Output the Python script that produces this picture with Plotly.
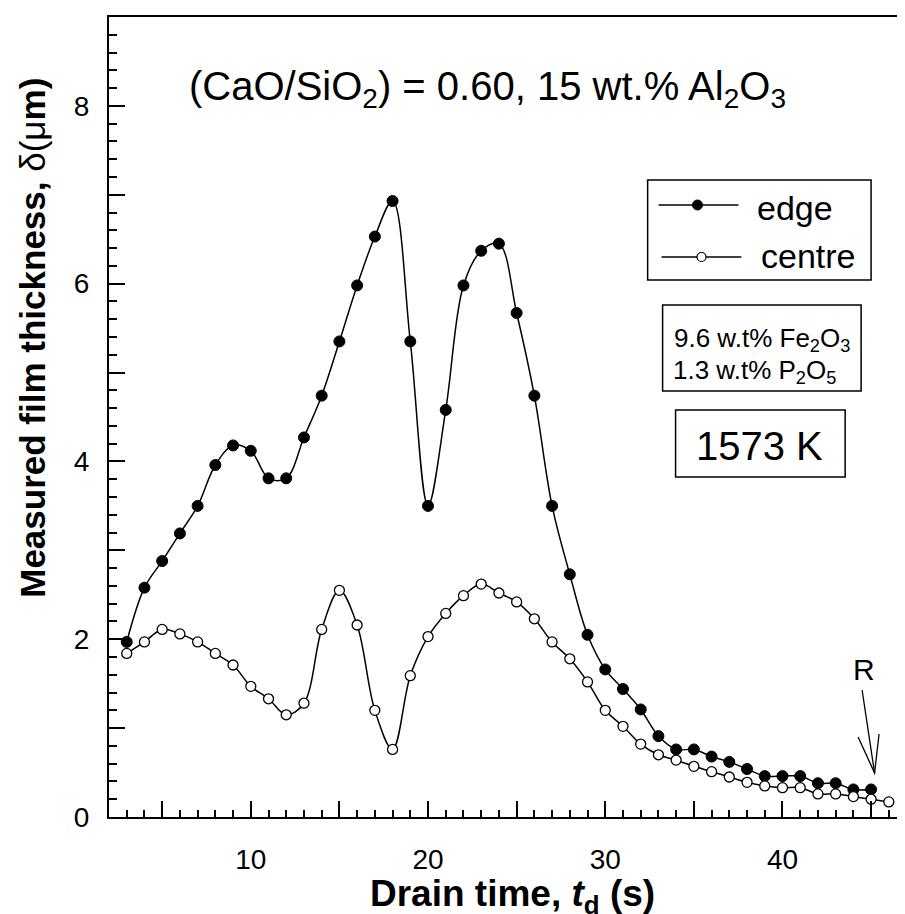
import plotly.graph_objects as go

# ---------------- data ----------------
edge_t = list(range(3, 46))
edge_delta = [1.97, 2.58, 2.88, 3.19, 3.50, 3.96, 4.18, 4.12, 3.81, 3.81,
              4.27, 4.74, 5.35, 5.98, 6.53, 6.93, 5.35, 3.50, 4.58, 5.98,
              6.37, 6.45, 5.67, 4.74, 3.50, 2.73, 2.05, 1.66, 1.44, 1.21,
              0.91, 0.76, 0.76, 0.68, 0.62, 0.54, 0.46, 0.46, 0.46, 0.38,
              0.38, 0.31, 0.31]
centre_t = list(range(3, 47))
centre_delta = [1.84, 1.97, 2.11, 2.06, 1.97, 1.84, 1.71, 1.47, 1.33, 1.15,
                1.28, 2.11, 2.55, 2.16, 1.20, 0.76, 1.59, 2.03, 2.29, 2.49,
                2.62, 2.52, 2.42, 2.23, 1.97, 1.78, 1.52, 1.20, 1.02, 0.82,
                0.70, 0.64, 0.57, 0.51, 0.45, 0.39, 0.35, 0.33, 0.33, 0.26,
                0.26, 0.23, 0.20, 0.17]
x_tick_vals = [5, 10, 15, 20, 25, 30, 35, 40, 45]
x_tick_text = ["", "10", "", "20", "", "30", "", "40", ""]
y_tick_vals = [0, 1, 2, 3, 4, 5, 6, 7, 8, 9]
y_tick_text = ["0", "", "2", "", "4", "", "6", "", "8", ""]

# ---------------- geometry helpers (page pixel -> paper) ----------------
OFF = 8                      # default body margin of the html page
W, H = 905 - OFF, 914 - OFF
L, R, T, B = 109 - OFF, 0, 17 - OFF, 97
PW, PH = W - L - R, H - T - B


def px(x):
    return (x - OFF - L) / PW


def py(y):
    return (H - B - (y - OFF)) / PH


FONT = "Liberation Sans, Arial, Helvetica, sans-serif"

fig = go.Figure()
fig.add_trace(go.Scatter(
    x=edge_t, y=edge_delta, mode="lines+markers", name="edge",
    line=dict(color="black", width=1.5, shape="spline", smoothing=1.0),
    marker=dict(symbol="circle", size=11, color="black",
                line=dict(color="black", width=1)),
    showlegend=False))
fig.add_trace(go.Scatter(
    x=centre_t, y=centre_delta, mode="lines+markers", name="centre",
    line=dict(color="black", width=1.5, shape="spline", smoothing=1.0),
    marker=dict(symbol="circle", size=10, color="white",
                line=dict(color="black", width=1.3)),
    showlegend=False))

axis_common = dict(
    showline=True, linecolor="black", linewidth=2, mirror=True,
    ticks="inside", ticklen=16, tickwidth=1.5, tickcolor="black",
    showgrid=False, zeroline=False,
    tickfont=dict(family=FONT, size=28, color="black"),
)

fig.update_xaxes(
    range=[2, 46.8], tickmode="array", tickvals=x_tick_vals,
    ticktext=x_tick_text, ticklabelstandoff=16,
    minor=dict(dtick=1, tick0=0, ticks="inside", ticklen=7,
               tickwidth=1.5, tickcolor="black", showgrid=False),
    **axis_common)
fig.update_yaxes(
    range=[0, 9], tickmode="array", tickvals=y_tick_vals,
    ticktext=y_tick_text, ticklabelstandoff=12,
    minor=dict(dtick=0.2, tick0=0, ticks="inside", ticklen=8,
               tickwidth=1.5, tickcolor="black", showgrid=False),
    **axis_common)

shapes = []
# legend box and info boxes
for (x0, y0, x1, y1) in [(649, 180, 873, 280), (664, 305, 863, 391),
                         (677, 410, 847, 477)]:
    shapes.append(dict(type="rect", xref="paper", yref="paper",
                       x0=px(x0), x1=px(x1), y0=py(y0), y1=py(y1),
                       line=dict(color="black", width=1.5),
                       fillcolor="rgba(0,0,0,0)"))
# legend sample lines
shapes.append(dict(type="line", xref="paper", yref="paper",
                   x0=px(660), x1=px(740), y0=py(205), y1=py(205),
                   line=dict(color="black", width=1.5)))
shapes.append(dict(type="line", xref="paper", yref="paper",
                   x0=px(663), x1=px(743), y0=py(257), y1=py(257),
                   line=dict(color="black", width=1.5)))
# legend sample markers
shapes.append(dict(type="circle", xref="paper", yref="paper",
                   xsizemode="pixel", ysizemode="pixel",
                   xanchor=px(699), yanchor=py(205),
                   x0=-5, x1=5, y0=-5, y1=5,
                   fillcolor="black", line=dict(color="black", width=1)))
shapes.append(dict(type="circle", xref="paper", yref="paper",
                   xsizemode="pixel", ysizemode="pixel",
                   xanchor=px(703), yanchor=py(257),
                   x0=-4.5, x1=4.5, y0=-4.5, y1=4.5,
                   fillcolor="white", line=dict(color="black", width=1.2)))
# arrow for R (open V head)
pts_shaft = [(864, 690), (876.5, 773)]
pts_head = [(860, 737), (876.5, 773), (881, 734)]


def path(pts):
    return "M " + " L ".join(f"{px(a):.5f},{py(b):.5f}" for a, b in pts)


shapes.append(dict(type="path", xref="paper", yref="paper",
                   path=path(pts_shaft), line=dict(color="black", width=1.3)))
shapes.append(dict(type="path", xref="paper", yref="paper",
                   path=path(pts_head), line=dict(color="black", width=1.3)))

annotations = []


def add_text(text, x, y, size, xanchor="left", yanchor="top", angle=0):
    annotations.append(dict(
        text=text, xref="paper", yref="paper", x=px(x), y=py(y),
        xanchor=xanchor, yanchor=yanchor, showarrow=False, textangle=angle,
        font=dict(family=FONT, size=size, color="black")))


add_text("(CaO/SiO<sub>2</sub>) = 0.60, 15 wt.% Al<sub>2</sub>O<sub>3</sub>",
         488, 62, 40, xanchor="center")
add_text("edge", 757, 187, 34)
add_text("centre", 761, 235, 34)
add_text("9.6 w.t% Fe<sub>2</sub>O<sub>3</sub>", 673, 321, 26)
add_text("1.3 w.t% P<sub>2</sub>O<sub>5</sub>", 672, 353, 26)
add_text("1573 K", 761, 422, 40, xanchor="center")
add_text("R", 866, 651, 30, xanchor="center")
add_text("<b>Drain time, <i>t</i><sub>d</sub> (s)</b>", 514, 871, 37,
         xanchor="center")
add_text("<b>Measured film thickness, </b>δ(μ<b>m)</b>", 10, 338, 35,
         xanchor="left", yanchor="middle", angle=-90)

fig.update_layout(
    width=W, height=H,
    margin=dict(l=L, r=R, t=T, b=B, pad=0),
    paper_bgcolor="white", plot_bgcolor="white",
    shapes=shapes, annotations=annotations,
    font=dict(family=FONT, color="black"),
)

fig.write_html("out.html")
